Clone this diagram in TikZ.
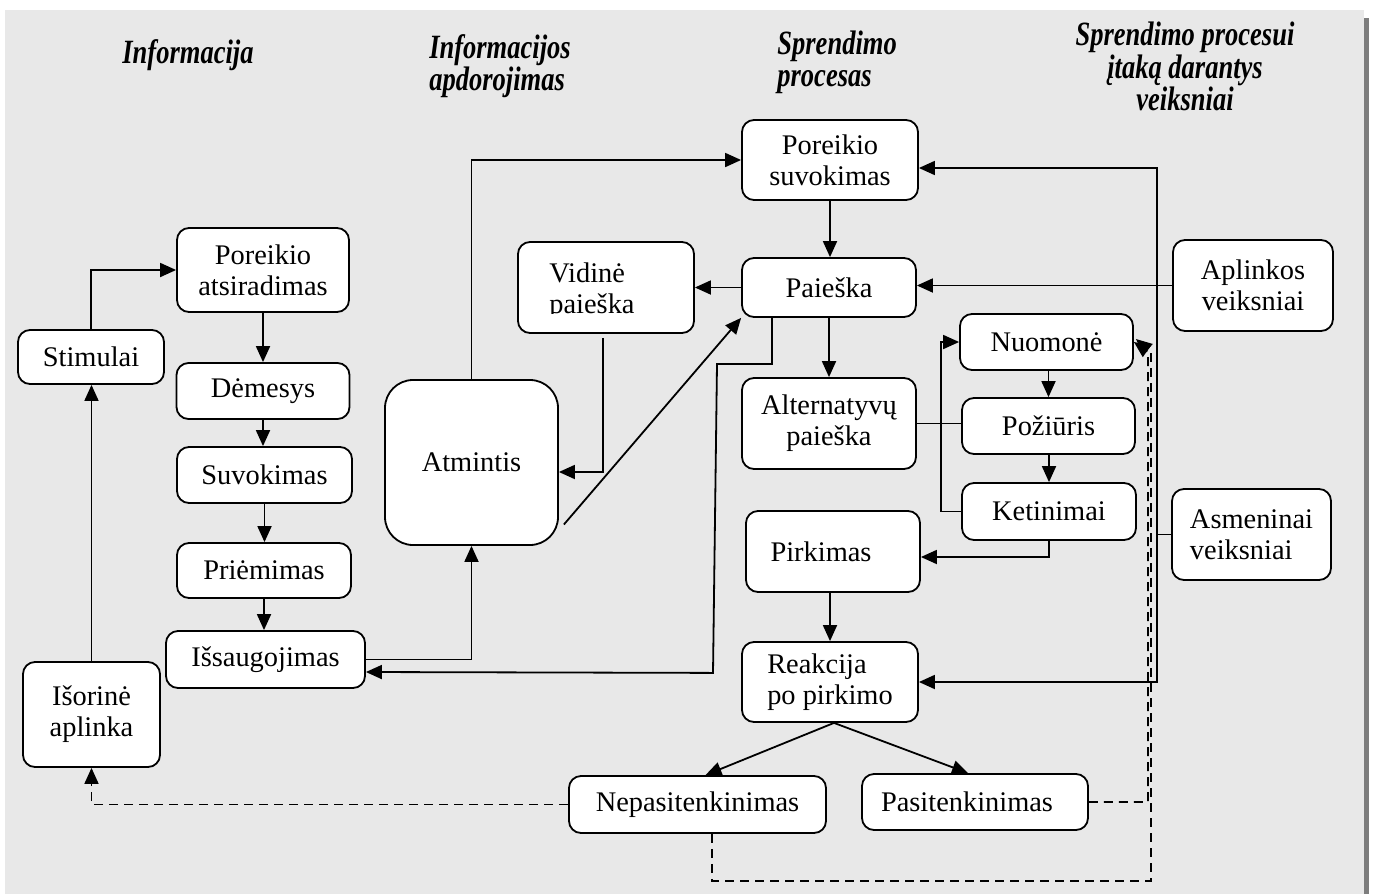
\documentclass[tikz,border=0pt]{standalone}
\usepackage{fontspec}
\setmainfont{Liberation Serif}
\newfontfamily\hdrfam{Liberation Serif}[FakeStretch=0.78]
\usetikzlibrary{arrows.meta,calc}
\definecolor{bggray}{RGB}{232,232,232}
\definecolor{edgegray}{RGB}{125,125,125}
\newcommand\bodyfont{\fontsize{14.2}{15.5}\selectfont}
\newcommand\hdrfont{\hdrfam\fontsize{17}{16.3}\selectfont\bfseries\itshape}
\tikzset{
  box/.style={draw, line width=0.9pt, fill=white, rounded corners=6pt, inner sep=0pt, align=center, font=\bodyfont},
  arr/.style={line width=0.9pt, -{Triangle[length=8pt,width=7pt]}},
  ln/.style={line width=0.9pt},
  dsh/.style={line width=0.9pt, dash pattern=on 4.5pt off 3pt},
  hdr/.style={font=\hdrfont, inner sep=0pt}
}
\begin{document}
\begin{tikzpicture}[x=0.5pt,y=-0.5pt]
\useasboundingbox (0,0) rectangle (1375,894);
\fill[white] (0,0) rectangle (1375,894);
\fill[bggray] (5,10) rectangle (1364,894);
\fill[edgegray] (1364,18) rectangle (1369,894);

% headers
\node[hdr, align=center] (h1) at (188,55) {Informacija};
\node[hdr, align=left] (h2) at (500,66) {Informacijos\\apdorojimas};
\node[hdr, align=left, anchor=west] (h3) at (777,62.5) {Sprendimo\\procesas};
\node[hdr, align=center] (h4) at (1185,66.5) {Sprendimo procesui\\įtaką darantys\\veiksniai};

% left column
\node[box, minimum width=86pt, minimum height=42pt] (pa) at (263,270) {Poreikio\\atsiradimas};
\node[box, minimum width=73pt, minimum height=27pt] (st) at (91,357) {Stimulai};
\node[box, minimum width=86.5pt, minimum height=28pt] (dem) at (263,391) {Dėmesys};
\node[box, minimum width=87.5pt, minimum height=28pt] (suv) at (264.5,475) {Suvokimas};
\node[box, minimum width=87pt, minimum height=27.5pt] (pri) at (264,570.5) {Priėmimas};
\node[box, minimum width=99.5pt, minimum height=28.5pt] (isa) at (265.5,659.5) {Išsaugojimas};
\node[box, minimum width=68.5pt, minimum height=52.5pt] (iso) at (91.5,714.5) {Išorinė\\aplinka};

% processing
\node[box, rounded corners=14pt, minimum width=86.5pt, minimum height=82.5pt] (atm) at (471.5,462.5) {Atmintis};
\node[box, minimum width=88pt, minimum height=45.5pt] (vid) at (606,287.5) {};
\begin{scope}
\clip (519,243) rectangle (693,313);
\node[font=\bodyfont, align=left, inner sep=0pt] (vidtxt) at (592,291) {Vidinė\\paieška};
\end{scope}

% decision process
\node[box, minimum width=88pt, minimum height=40pt] (ps) at (830,160) {Poreikio\\suvokimas};
\node[box, minimum width=87pt, minimum height=29.5pt] (pai) at (829,287.5) {Paieška};
\node[box, minimum width=87pt, minimum height=45.5pt] (alt) at (829,423.5) {Alternatyvų\\paieška};
\node[box, minimum width=86.5pt, minimum height=28pt] (nuo) at (1046.5,342) {Nuomonė};
\node[box, minimum width=86.5pt, minimum height=28pt] (poz) at (1048.5,426) {Požiūris};
\node[box, minimum width=87pt, minimum height=28.5pt] (ket) at (1049,511.5) {Ketinimai};
\node[box, minimum width=87pt, minimum height=40.5pt] (pir) at (833,551.5) {Pirkimas\hspace*{12pt}};
\node[box, align=left, minimum width=88pt, minimum height=40pt] (rea) at (830,682) {Reakcija\\po pirkimo};
\node[box, minimum width=128.5pt, minimum height=28.5pt] (nep) at (697.5,804.5) {Nepasitenkinimas};
\node[box, minimum width=113pt, minimum height=28pt] (pas) at (975,802) {Pasitenkinimas\hspace*{8pt}};

% factors
\node[box, minimum width=80pt, minimum height=45.5pt] (apl) at (1253,285.5) {Aplinkos\\veiksniai};
\node[box, align=left, minimum width=79.5pt, minimum height=45.5pt] (asm) at (1251.5,534.5) {Asmeninai\\veiksniai};

% connectors: information column
\draw[arr] (st.north) |- (pa.west);
\draw[arr] (iso.north) -- (iso.north |- st.south);
\draw[arr] (pa.south) -- (pa.south |- dem.north);
\draw[arr] (dem.south) -- (dem.south |- suv.north);
\draw[arr] (suv.south) -- (suv.south |- pri.north);
\draw[arr] (pri.south) -- (pri.south |- isa.north);

% processing
\draw[arr] (isa.east) -| (atm.south);
\draw[arr] (atm.north) |- (ps.west);
\draw[arr] (pai.west) -- (vid.east);
\draw[arr] ($(vid.south)+(-3,4)$) |- ($(atm.east)+(0,9.5)$);
\draw[arr] ($(atm.east)+(5,62)$) -- (pai.south west);
\draw[arr] ($(pai.south)+(-57,0)$) -- ++(0,46) -- ++(-55,0) -- ++(-4,309) -- ($(isa.east)+(0,12.5)$);

% decision process
\draw[arr] (ps.south) -- (ps.south |- pai.north);
\draw[arr] (pai.south) -- (pai.south |- alt.north);
\draw[arr] (apl.west) -- (apl.west -| pai.east);
\draw[ln] (alt.east) -- (alt.east -| poz.west);
\draw[arr] (ket.west) -- ++(-20,0) |- (nuo.west);
\draw[arr] (nuo.south -| poz.north) -- (poz.north);
\draw[arr] (poz.south -| ket.north) -- (ket.north);
\draw[arr] (ket.south) |- ($(pir.east)+(0,5.5)$);
\draw[arr] (pir.south -| rea.north) -- (rea.north);
\draw[arr] ($(rea.south)+(4,0)$) -- ($(nep.north)+(8,0)$);
\draw[arr] ($(rea.south)+(4,0)$) -- ($(pas.north)+(-7,0)$);

% personal factors
\coordinate (asmj) at ($(asm.west)+(-14,0)$);
\draw[arr] (asm.west) -- (asmj) -- (asmj |- 0,168) -- ($(ps.east)+(0,8)$);
\draw[arr] (asmj) |- (rea.east);

% dashed feedback
\draw[dsh, -{Triangle[length=8pt,width=7pt]}] (nep.west) -| (iso.south);
\coordinate (dj) at (1148,352);
\draw[dsh, -{Triangle[length=8pt,width=7pt]}] (pas.east) -| (dj) -- (nuo.east);
\draw[dsh, -{Triangle[length=8pt,width=7pt]}] ($(nep.south)+(14.5,0)$) -- ++(0,47) -| ($(dj)+(3,0)$) -- ($(nuo.east)+(2,-3)$);
\end{tikzpicture}
\end{document}
